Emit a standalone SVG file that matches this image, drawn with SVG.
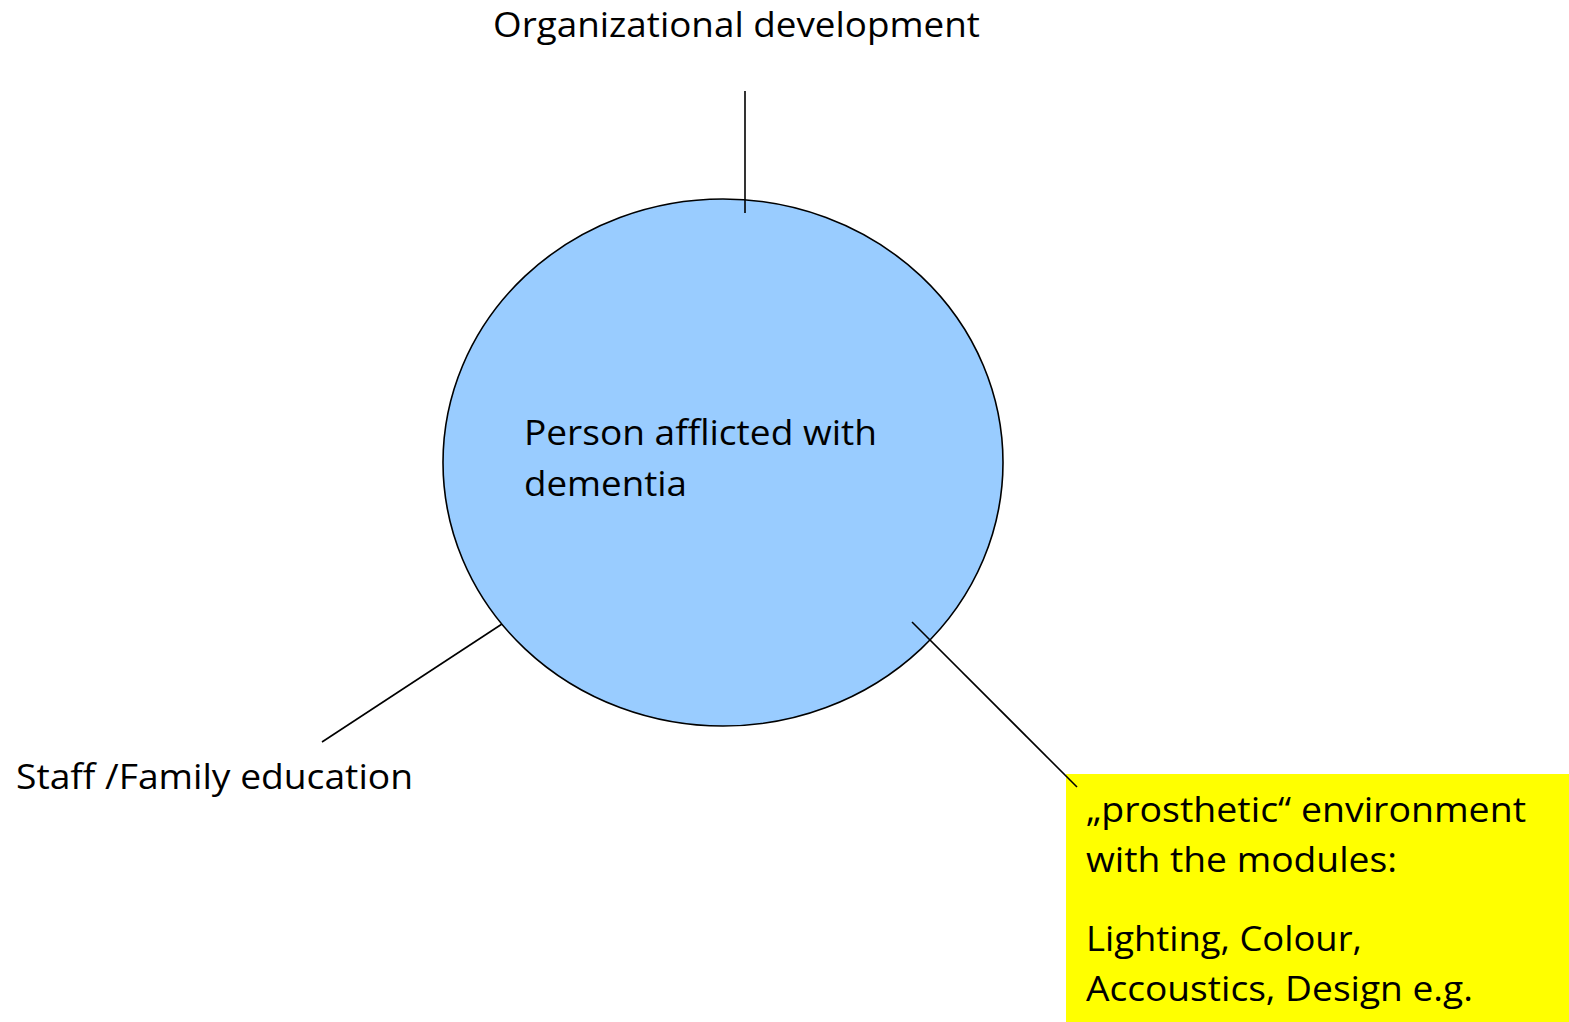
<svg xmlns="http://www.w3.org/2000/svg" width="1569" height="1022" viewBox="0 0 1569 1022">
  <style>
    .lbl { font-family: "Open Sans", "Liberation Sans", sans-serif; font-size: 35px; fill: #000; }
    .conn { stroke: #000; stroke-width: 1.6; fill: none; }
  </style>
  <rect x="0" y="0" width="1569" height="1022" fill="#fff"/>

  <g id="node-person">
    <ellipse cx="723" cy="462.5" rx="280" ry="263.5" fill="#99ccff" stroke="#000" stroke-width="1.6"/>
    <text class="lbl" x="524" y="445" textLength="353" lengthAdjust="spacingAndGlyphs">Person afflicted with</text>
    <text class="lbl" x="524" y="496" textLength="163" lengthAdjust="spacingAndGlyphs">dementia</text>
  </g>

  <g id="node-orgdev">
    <text class="lbl" x="493" y="37" textLength="487" lengthAdjust="spacingAndGlyphs">Organizational development</text>
  </g>

  <g id="node-education">
    <text class="lbl" x="16" y="789" textLength="397" lengthAdjust="spacingAndGlyphs">Staff /Family education</text>
  </g>

  <g id="node-environment">
    <rect x="1066" y="774" width="503" height="248" fill="#ffff00"/>
    <text class="lbl" x="1086" y="822" textLength="440" lengthAdjust="spacingAndGlyphs">„prosthetic“ environment</text>
    <text class="lbl" x="1086" y="872" textLength="311" lengthAdjust="spacingAndGlyphs">with the modules:</text>
    <text class="lbl" x="1086" y="951" textLength="276" lengthAdjust="spacingAndGlyphs">Lighting, Colour,</text>
    <text class="lbl" x="1086" y="1001" textLength="387" lengthAdjust="spacingAndGlyphs">Accoustics, Design e.g.</text>
  </g>

  <g id="connectors">
    <line class="conn" x1="745" y1="91" x2="745" y2="213"/>
    <line class="conn" x1="502" y1="624" x2="322" y2="742"/>
    <line class="conn" x1="912" y1="622" x2="1077" y2="787"/>
  </g>
</svg>
